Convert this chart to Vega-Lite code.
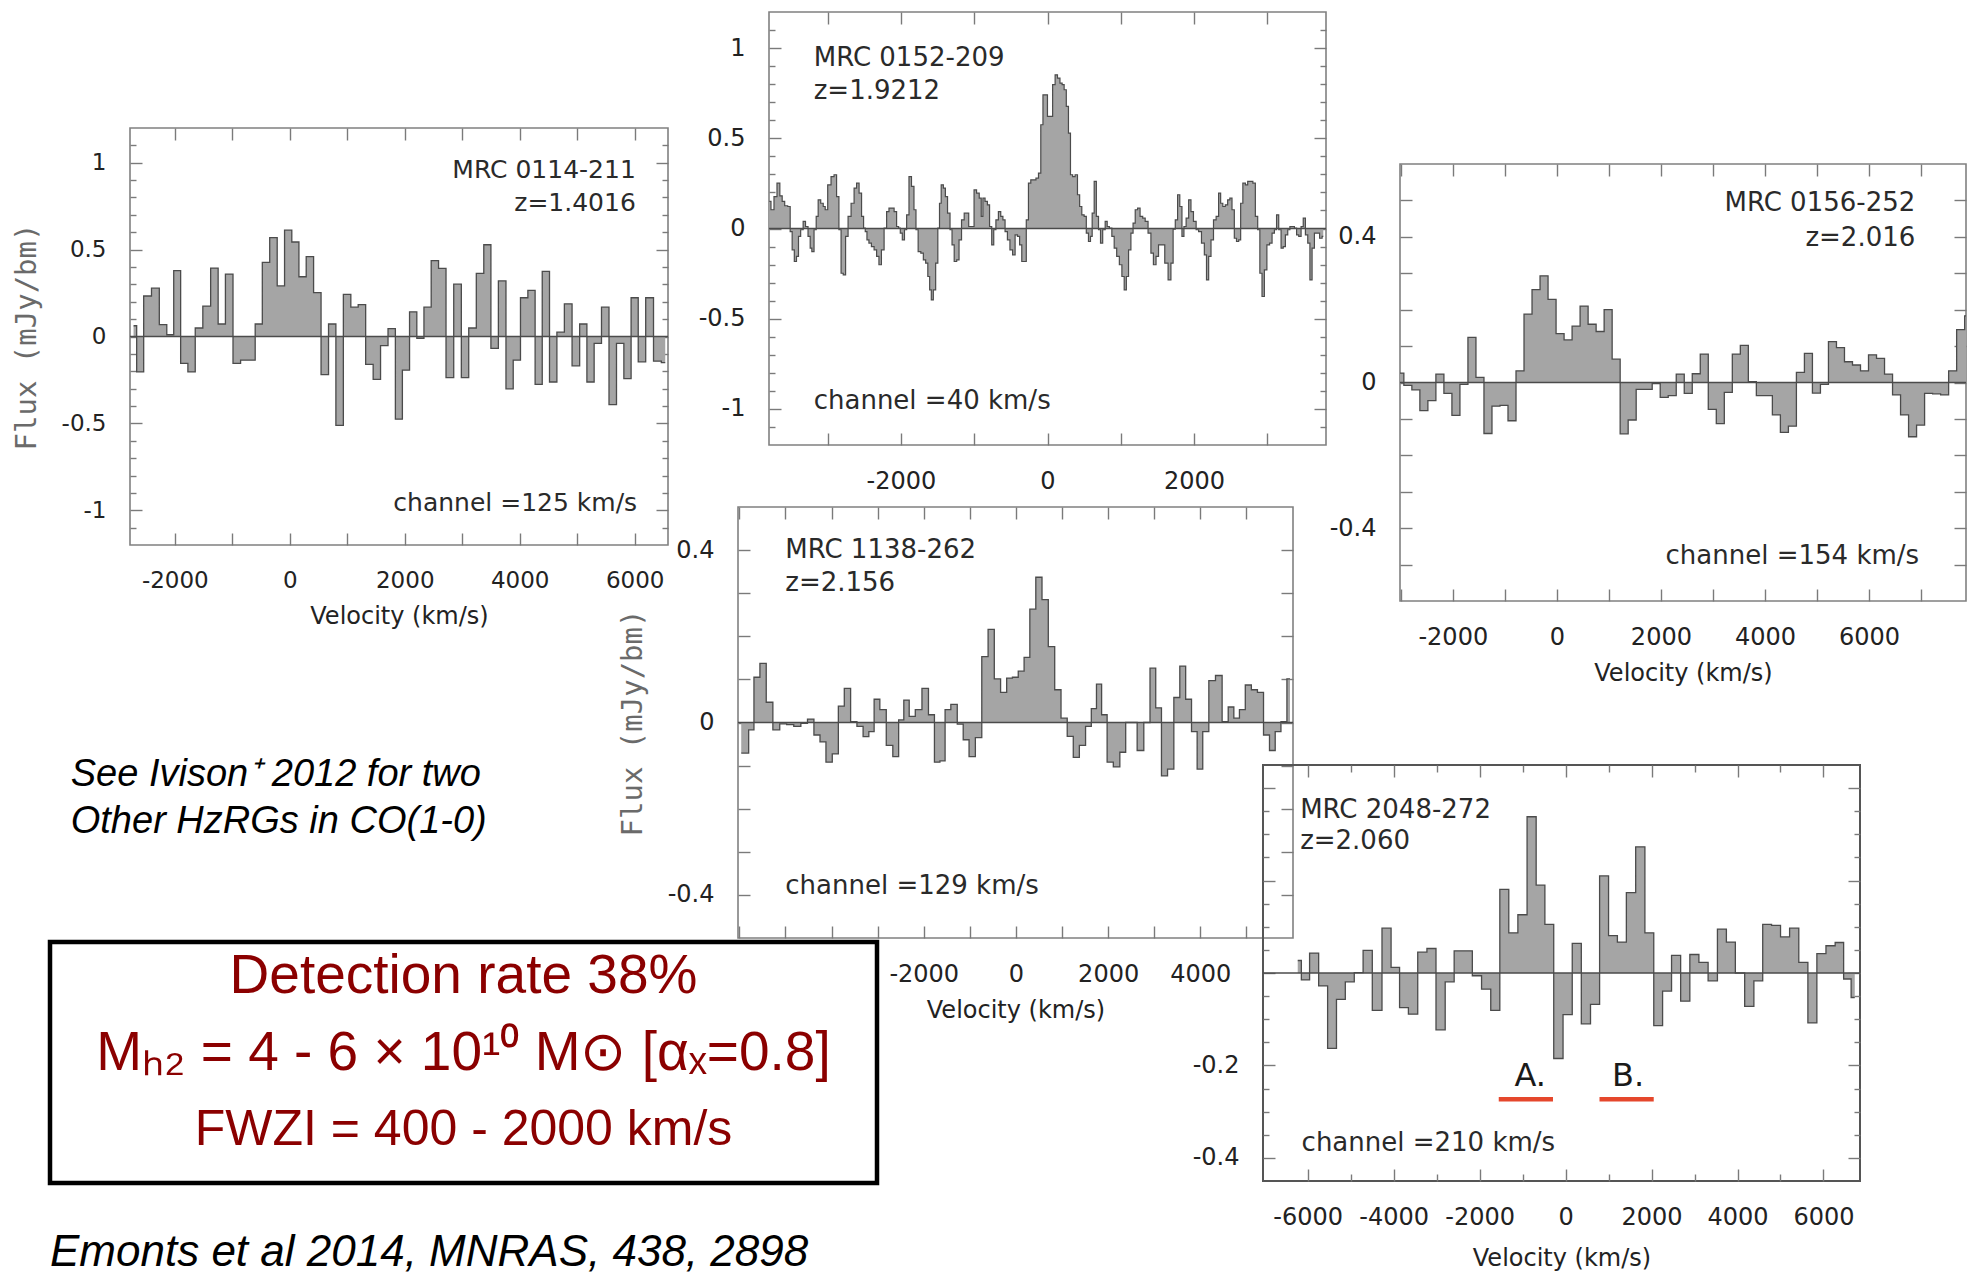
{
"$schema": "https://vega.github.io/schema/vega-lite/v6.json",
"background": "white",
"padding": {"left": 11, "top": 10, "right": 4, "bottom": 0},
"datasets": {
"p1": [{"v":-2718,"f":0.062},{"v":-2610,"f":-0.204},{"v":-2474,"f":0.233},{"v":-2338,"f":0.278},{"v":-2202,"f":0.068},{"v":-2078,"f":0.01},{"v":-1961,"f":0.379},{"v":-1837,"f":-0.155},{"v":-1709,"f":-0.204},{"v":-1581,"f":0.049},{"v":-1445,"f":0.175},{"v":-1309,"f":0.394},{"v":-1184,"f":0.072},{"v":-1056,"f":0.359},{"v":-920,"f":-0.155},{"v":-792,"f":-0.136},{"v":-664,"f":-0.136},{"v":-540,"f":0.072},{"v":-416,"f":0.427},{"v":-283,"f":0.569},{"v":-155,"f":0.291},{"v":-27,"f":0.612},{"v":97,"f":0.544},{"v":221,"f":0.344},{"v":350,"f":0.46},{"v":478,"f":0.252},{"v":610,"f":-0.219},{"v":738,"f":0.072},{"v":866,"f":-0.511},{"v":998,"f":0.243},{"v":1126,"f":0.169},{"v":1254,"f":0.184},{"v":1386,"f":-0.161},{"v":1515,"f":-0.247},{"v":1643,"f":-0.052},{"v":1775,"f":0.045},{"v":1899,"f":-0.476},{"v":2019,"f":-0.194},{"v":2148,"f":0.142},{"v":2272,"f":-0.01},{"v":2396,"f":0.169},{"v":2524,"f":0.437},{"v":2652,"f":0.392},{"v":2784,"f":-0.237},{"v":2920,"f":0.301},{"v":3049,"f":-0.237},{"v":3177,"f":0.049},{"v":3313,"f":0.363},{"v":3437,"f":0.528},{"v":3561,"f":-0.068},{"v":3697,"f":0.32},{"v":3825,"f":-0.301},{"v":3949,"f":-0.136},{"v":4078,"f":0.223},{"v":4206,"f":0.266},{"v":4330,"f":-0.276},{"v":4454,"f":0.375},{"v":4583,"f":-0.262},{"v":4711,"f":0.025},{"v":4843,"f":0.188},{"v":4979,"f":-0.169},{"v":5107,"f":0.072},{"v":5231,"f":-0.262},{"v":5359,"f":-0.039},{"v":5487,"f":0.169},{"v":5620,"f":-0.392},{"v":5748,"f":-0.039},{"v":5876,"f":-0.243},{"v":6000,"f":0.223},{"v":6124,"f":-0.146},{"v":6260,"f":0.223},{"v":6396,"f":-0.142},{"v":6532,"f":-0.15}],
"p2": [{"v":-3796,"f":0.15},{"v":-3750,"f":0.104},{"v":-3714,"f":0.177},{"v":-3668,"f":0.251},{"v":-3636,"f":0.181},{"v":-3604,"f":0.15},{"v":-3568,"f":0.126},{"v":-3522,"f":0.122},{"v":-3500,"f":-0.017},{"v":-3468,"f":-0.118},{"v":-3441,"f":-0.183},{"v":-3409,"f":-0.155},{"v":-3386,"f":-0.044},{"v":-3350,"f":-0.007},{"v":-3318,"f":0.039},{"v":-3286,"f":0.011},{"v":-3249,"f":-0.044},{"v":-3227,"f":-0.109},{"v":-3204,"f":-0.128},{"v":-3167,"f":-0.007},{"v":-3145,"f":0.067},{"v":-3113,"f":0.159},{"v":-3076,"f":0.14},{"v":-3044,"f":0.122},{"v":-3022,"f":0.104},{"v":-2976,"f":0.242},{"v":-2931,"f":0.288},{"v":-2894,"f":0.298},{"v":-2862,"f":0.177},{"v":-2830,"f":-0.007},{"v":-2803,"f":-0.248},{"v":-2771,"f":-0.257},{"v":-2739,"f":-0.044},{"v":-2703,"f":0.067},{"v":-2657,"f":0.14},{"v":-2621,"f":0.224},{"v":-2589,"f":0.251},{"v":-2553,"f":0.196},{"v":-2521,"f":0.067},{"v":-2498,"f":0.002},{"v":-2475,"f":-0.017},{"v":-2452,"f":-0.063},{"v":-2421,"f":-0.081},{"v":-2384,"f":-0.1},{"v":-2348,"f":-0.118},{"v":-2316,"f":-0.155},{"v":-2284,"f":-0.201},{"v":-2248,"f":-0.118},{"v":-2211,"f":0.002},{"v":-2179,"f":0.094},{"v":-2147,"f":0.113},{"v":-2111,"f":0.113},{"v":-2075,"f":0.094},{"v":-2043,"f":0.011},{"v":-2020,"f":0.002},{"v":-1997,"f":-0.026},{"v":-1965,"f":-0.063},{"v":-1938,"f":-0.007},{"v":-1906,"f":0.076},{"v":-1874,"f":0.288},{"v":-1838,"f":0.233},{"v":-1806,"f":0.104},{"v":-1783,"f":-0.007},{"v":-1747,"f":-0.128},{"v":-1710,"f":-0.137},{"v":-1678,"f":-0.174},{"v":-1647,"f":-0.192},{"v":-1619,"f":-0.266},{"v":-1597,"f":-0.34},{"v":-1574,"f":-0.396},{"v":-1542,"f":-0.34},{"v":-1510,"f":-0.192},{"v":-1483,"f":0.002},{"v":-1464,"f":0.14},{"v":-1437,"f":0.242},{"v":-1405,"f":0.224},{"v":-1382,"f":0.177},{"v":-1346,"f":0.085},{"v":-1314,"f":-0.007},{"v":-1291,"f":-0.091},{"v":-1255,"f":-0.183},{"v":-1223,"f":-0.174},{"v":-1191,"f":-0.063},{"v":-1155,"f":0.048},{"v":-1118,"f":0.085},{"v":-1086,"f":0.085},{"v":-1064,"f":0.011},{"v":-1018,"f":0.011},{"v":-986,"f":0.214},{"v":-950,"f":0.196},{"v":-913,"f":0.168},{"v":-895,"f":0.067},{"v":-868,"f":0.168},{"v":-836,"f":0.15},{"v":-804,"f":0.131},{"v":-777,"f":0.011},{"v":-745,"f":-0.091},{"v":-722,"f":-0.007},{"v":-686,"f":0.048},{"v":-654,"f":0.094},{"v":-622,"f":0.067},{"v":-595,"f":0.048},{"v":-563,"f":-0.017},{"v":-531,"f":-0.063},{"v":-494,"f":-0.118},{"v":-458,"f":-0.146},{"v":-426,"f":-0.035},{"v":-394,"f":-0.044},{"v":-367,"f":-0.091},{"v":-335,"f":-0.183},{"v":-303,"f":-0.183},{"v":-276,"f":0.048},{"v":-244,"f":0.251},{"v":-212,"f":0.27},{"v":-176,"f":0.27},{"v":-139,"f":0.279},{"v":-107,"f":0.307},{"v":-76,"f":0.575},{"v":-48,"f":0.741},{"v":-16,"f":0.741},{"v":15,"f":0.621},{"v":52,"f":0.621},{"v":88,"f":0.797},{"v":120,"f":0.852},{"v":152,"f":0.834},{"v":188,"f":0.806},{"v":211,"f":0.797},{"v":243,"f":0.769},{"v":270,"f":0.677},{"v":302,"f":0.529},{"v":325,"f":0.298},{"v":361,"f":0.288},{"v":393,"f":0.298},{"v":425,"f":0.187},{"v":452,"f":0.122},{"v":484,"f":0.076},{"v":516,"f":0.067},{"v":543,"f":-0.026},{"v":575,"f":-0.072},{"v":598,"f":-0.044},{"v":621,"f":0.085},{"v":653,"f":0.261},{"v":680,"f":0.067},{"v":712,"f":-0.007},{"v":735,"f":-0.081},{"v":771,"f":-0.007},{"v":803,"f":0.039},{"v":826,"f":0.011},{"v":862,"f":0.002},{"v":894,"f":-0.044},{"v":926,"f":-0.109},{"v":962,"f":-0.155},{"v":999,"f":-0.201},{"v":1031,"f":-0.266},{"v":1062,"f":-0.34},{"v":1090,"f":-0.266},{"v":1122,"f":-0.118},{"v":1154,"f":-0.026},{"v":1181,"f":0.03},{"v":1213,"f":0.104},{"v":1245,"f":0.113},{"v":1281,"f":0.067},{"v":1317,"f":0.057},{"v":1349,"f":0.039},{"v":1395,"f":-0.026},{"v":1427,"f":-0.137},{"v":1463,"f":-0.201},{"v":1499,"f":-0.155},{"v":1531,"f":-0.091},{"v":1577,"f":-0.091},{"v":1623,"f":-0.192},{"v":1668,"f":-0.285},{"v":1700,"f":-0.192},{"v":1728,"f":-0.004},{"v":1759,"f":0.048},{"v":1791,"f":0.187},{"v":1819,"f":0.122},{"v":1850,"f":-0.044},{"v":1873,"f":0.011},{"v":1910,"f":0.057},{"v":1942,"f":0.159},{"v":1973,"f":0.094},{"v":2010,"f":0.039},{"v":2046,"f":-0.007},{"v":2078,"f":-0.017},{"v":2124,"f":-0.081},{"v":2156,"f":-0.146},{"v":2183,"f":-0.285},{"v":2215,"f":-0.155},{"v":2247,"f":-0.063},{"v":2283,"f":0.048},{"v":2319,"f":0.067},{"v":2351,"f":0.196},{"v":2374,"f":0.14},{"v":2410,"f":0.122},{"v":2442,"f":0.131},{"v":2474,"f":0.159},{"v":2502,"f":0.168},{"v":2533,"f":0.104},{"v":2565,"f":-0.054},{"v":2593,"f":-0.072},{"v":2624,"f":-0.063},{"v":2647,"f":0.14},{"v":2684,"f":0.251},{"v":2716,"f":0.242},{"v":2747,"f":0.261},{"v":2784,"f":0.261},{"v":2820,"f":0.251},{"v":2852,"f":0.067},{"v":2884,"f":-0.007},{"v":2911,"f":-0.248},{"v":2943,"f":-0.377},{"v":2975,"f":-0.229},{"v":3012,"f":-0.091},{"v":3048,"f":-0.081},{"v":3080,"f":-0.026},{"v":3112,"f":-0.007},{"v":3139,"f":0.076},{"v":3171,"f":-0.007},{"v":3203,"f":-0.109},{"v":3230,"f":-0.1},{"v":3262,"f":-0.035},{"v":3294,"f":-0.007},{"v":3321,"f":0.011},{"v":3353,"f":0.011},{"v":3385,"f":0.002},{"v":3412,"f":-0.035},{"v":3444,"f":-0.044},{"v":3476,"f":0.011},{"v":3503,"f":0.057},{"v":3535,"f":-0.035},{"v":3567,"f":-0.081},{"v":3594,"f":-0.285},{"v":3626,"f":-0.109},{"v":3658,"f":-0.026},{"v":3694,"f":-0.026},{"v":3731,"f":-0.054},{"v":3763,"f":-0.044}],
"p3": [{"v":-3018,"f":0.026},{"v":-2864,"f":-0.008},{"v":-2710,"f":-0.02},{"v":-2556,"f":-0.077},{"v":-2402,"f":-0.05},{"v":-2248,"f":0.023},{"v":-2094,"f":-0.03},{"v":-1940,"f":-0.09},{"v":-1786,"f":-0.005},{"v":-1632,"f":0.124},{"v":-1478,"f":0.014},{"v":-1324,"f":-0.14},{"v":-1170,"f":-0.065},{"v":-1016,"f":-0.063},{"v":-862,"f":-0.105},{"v":-708,"f":0.032},{"v":-554,"f":0.188},{"v":-400,"f":0.255},{"v":-246,"f":0.293},{"v":-92,"f":0.228},{"v":62,"f":0.134},{"v":216,"f":0.117},{"v":370,"f":0.155},{"v":524,"f":0.21},{"v":678,"f":0.16},{"v":832,"f":0.14},{"v":986,"f":0.2},{"v":1140,"f":0.064},{"v":1294,"f":-0.141},{"v":1448,"f":-0.103},{"v":1602,"f":-0.019},{"v":1756,"f":-0.019},{"v":1910,"f":-0.003},{"v":2064,"f":-0.041},{"v":2218,"f":-0.036},{"v":2372,"f":0.023},{"v":2526,"f":-0.03},{"v":2680,"f":0.024},{"v":2834,"f":0.078},{"v":2988,"f":-0.074},{"v":3142,"f":-0.113},{"v":3296,"f":-0.027},{"v":3450,"f":0.078},{"v":3604,"f":0.102},{"v":3758,"f":0.002},{"v":3912,"f":-0.036},{"v":4066,"f":-0.036},{"v":4220,"f":-0.089},{"v":4374,"f":-0.137},{"v":4528,"f":-0.12},{"v":4682,"f":0.028},{"v":4836,"f":0.08},{"v":4990,"f":-0.029},{"v":5144,"f":-0.005},{"v":5298,"f":0.112},{"v":5452,"f":0.096},{"v":5606,"f":0.057},{"v":5760,"f":0.048},{"v":5914,"f":0.032},{"v":6068,"f":0.076},{"v":6222,"f":0.066},{"v":6376,"f":0.023},{"v":6530,"f":-0.034},{"v":6684,"f":-0.089},{"v":6838,"f":-0.149},{"v":6992,"f":-0.117},{"v":7146,"f":-0.03},{"v":7300,"f":-0.031},{"v":7454,"f":-0.034},{"v":7608,"f":0.032},{"v":7762,"f":0.145},{"v":7916,"f":0.183}],
"p4": [{"v":-5960,"f":-0.071},{"v":-5851,"f":-0.071},{"v":-5746,"f":-0.017},{"v":-5622,"f":0.105},{"v":-5487,"f":0.137},{"v":-5348,"f":0.047},{"v":-5199,"f":-0.017},{"v":-5050,"f":-0.003},{"v":-4900,"f":-0.005},{"v":-4741,"f":-0.009},{"v":-4592,"f":-0.002},{"v":-4453,"f":0.008},{"v":-4313,"f":-0.029},{"v":-4189,"f":-0.045},{"v":-4055,"f":-0.092},{"v":-3915,"f":-0.073},{"v":-3791,"f":0.038},{"v":-3657,"f":0.079},{"v":-3517,"f":0.002},{"v":-3383,"f":-0.009},{"v":-3249,"f":-0.033},{"v":-3134,"f":-0.021},{"v":-3020,"f":0.054},{"v":-2886,"f":0.03},{"v":-2741,"f":-0.053},{"v":-2602,"f":-0.079},{"v":-2488,"f":0.006},{"v":-2378,"f":0.052},{"v":-2254,"f":0.014},{"v":-2114,"f":0.03},{"v":-1965,"f":0.079},{"v":-1831,"f":0.018},{"v":-1706,"f":-0.092},{"v":-1592,"f":-0.089},{"v":-1483,"f":0.03},{"v":-1343,"f":0.042},{"v":-1204,"f":-0.004},{"v":-1085,"f":-0.04},{"v":-950,"f":-0.079},{"v":-811,"f":-0.035},{"v":-672,"f":0.153},{"v":-537,"f":0.216},{"v":-403,"f":0.101},{"v":-264,"f":0.07},{"v":-139,"f":0.103},{"v":-15,"f":0.105},{"v":114,"f":0.119},{"v":239,"f":0.151},{"v":363,"f":0.263},{"v":498,"f":0.337},{"v":632,"f":0.285},{"v":771,"f":0.176},{"v":910,"f":0.076},{"v":1045,"f":0.01},{"v":1179,"f":-0.032},{"v":1308,"f":-0.081},{"v":1443,"f":-0.053},{"v":1577,"f":-0.009},{"v":1692,"f":0.032},{"v":1801,"f":0.089},{"v":1915,"f":0.018},{"v":2040,"f":-0.092},{"v":2184,"f":-0.103},{"v":2323,"f":-0.069},{"v":2438,"f":0.0},{"v":2557,"f":0.0},{"v":2701,"f":-0.065},{"v":2846,"f":0.0},{"v":2970,"f":0.126},{"v":3094,"f":0.034},{"v":3219,"f":-0.124},{"v":3358,"f":-0.108},{"v":3492,"f":0.058},{"v":3617,"f":0.131},{"v":3746,"f":0.054},{"v":3871,"f":-0.021},{"v":3990,"f":-0.108},{"v":4114,"f":-0.021},{"v":4254,"f":0.097},{"v":4403,"f":0.109},{"v":4542,"f":0.002},{"v":4667,"f":0.036},{"v":4786,"f":0.01},{"v":4910,"f":0.03},{"v":5040,"f":0.087},{"v":5174,"f":0.076},{"v":5303,"f":0.07},{"v":5438,"f":-0.029},{"v":5562,"f":-0.065},{"v":5686,"f":-0.021},{"v":5811,"f":0.002},{"v":5945,"f":0.101}],
"p5": [{"v":-6232,"f":0.027},{"v":-6063,"f":-0.015},{"v":-5849,"f":0.043},{"v":-5641,"f":-0.028},{"v":-5432,"f":-0.163},{"v":-5229,"f":-0.057},{"v":-5021,"f":-0.019},{"v":-4812,"f":0.001},{"v":-4610,"f":0.049},{"v":-4384,"f":-0.081},{"v":-4159,"f":0.097},{"v":-3961,"f":0.012},{"v":-3764,"f":-0.075},{"v":-3550,"f":-0.089},{"v":-3330,"f":0.045},{"v":-3122,"f":0.053},{"v":-2908,"f":-0.123},{"v":-2694,"f":-0.019},{"v":-2491,"f":0.048},{"v":-2277,"f":0.048},{"v":-2062,"f":-0.006},{"v":-1848,"f":-0.035},{"v":-1634,"f":-0.081},{"v":-1426,"f":0.181},{"v":-1217,"f":0.087},{"v":-1003,"f":0.126},{"v":-789,"f":0.338},{"v":-580,"f":0.19},{"v":-383,"f":0.105},{"v":-169,"f":-0.185},{"v":51,"f":-0.09},{"v":259,"f":0.064},{"v":473,"f":-0.11},{"v":687,"f":-0.068},{"v":896,"f":0.21},{"v":1104,"f":0.081},{"v":1307,"f":0.067},{"v":1521,"f":0.174},{"v":1741,"f":0.273},{"v":1950,"f":0.087},{"v":2153,"f":-0.114},{"v":2361,"f":-0.039},{"v":2570,"f":0.038},{"v":2784,"f":-0.061},{"v":2998,"f":0.04},{"v":3206,"f":0.023},{"v":3426,"f":-0.017},{"v":3640,"f":0.095},{"v":3843,"f":0.067},{"v":4057,"f":0.0},{"v":4277,"f":-0.072},{"v":4485,"f":-0.017},{"v":4688,"f":0.105},{"v":4897,"f":0.103},{"v":5105,"f":0.078},{"v":5319,"f":0.097},{"v":5533,"f":0.023},{"v":5742,"f":-0.108},{"v":5951,"f":0.042},{"v":6165,"f":0.059},{"v":6379,"f":0.066},{"v":6559,"f":-0.013},{"v":6728,"f":-0.053}],
"p5comp": [{"comp":"A.","v1":-1555,"v2":-293},{"comp":"B.","v1":789,"v2":2051}],
"box": [{"i":1,"line":"Detection rate 38%"},{"i":2,"line":"Mₕ₂ = 4 - 6 × 10¹⁰ M⊙ [αₓ=0.8]"},{"i":3,"line":"FWZI = 400 - 2000 km/s"}]
},
"columns": 2,
"align": "none",
"spacing": -263,
"concat": [
{
 "spacing": 126,
 "vconcat": [
  {"spacing": 113,
   "vconcat": [
    {"width": 1, "height": 1, "data": {"values": []}, "mark": "text"},
    {"spacing": -40, "hconcat": [
     {"width": 1, "height": 1, "data": {"values": []}, "mark": "text"},
     {"width": 538, "height": 417,
      "view": {"stroke": "#808080", "strokeWidth": 1.6},
      "resolve": {"axis": {"x": "independent", "y": "independent"}},
      "layer": [
       {"data": {"name": "p1"},
        "mark": {"type": "area", "interpolate": "step", "color": "#a5a5a5", "opacity": 1, "clip": true, "line": {"color": "#4b4b4b", "strokeWidth": 1.3}},
        "encoding": {
         "x": {"field": "v", "type": "quantitative", "scale": {"domain": [-2780, 6580], "nice": false, "zero": false},
          "axis": {"orient": "bottom", "values": [-2000,-1000,0,1000,2000,3000,4000,5000,6000], "tickSize": -12, "labelFontSize": 23, "labelExpr": "indexof([-2000,0,2000,4000,6000], datum.value) >= 0 ? toString(datum.value) : ''", "title": "Velocity (km/s)"}},
         "y": {"field": "f", "type": "quantitative", "scale": {"domain": [-1.2, 1.2], "nice": false},
          "axis": {"orient": "left", "values": [-1.1,-1,-0.9,-0.8,-0.7,-0.6,-0.5,-0.4,-0.3,-0.2,-0.1,0,0.1,0.2,0.3,0.4,0.5,0.6,0.7,0.8,0.9,1,1.1], "tickSize": {"condition": {"test": "indexof([-1,-0.5,0,0.5,1], datum.value) >= 0", "value": -12}, "value": -6}, "labelFontSize": 23, "labelExpr": "indexof([-1,-0.5,0,0.5,1], datum.value) >= 0 ? toString(datum.value) : ''", "title": "Flux (mJy/bm)", "titleFont": "DejaVu Sans Mono", "titleColor": "#6a6a6a", "titleFontSize": 29, "titlePadding": 20}}
        }},
       {"data": {"values": [{}]}, "mark": {"type": "rule", "color": "#4b4b4b", "strokeWidth": 1.3}, "encoding": {"y": {"datum": 0, "type": "quantitative", "axis": null}}},
       {"data": {"values": [{}]}, "mark": {"type": "text", "align": "right", "baseline": "middle", "lineHeight": 33, "fontSize": 25},
        "encoding": {
         "x": {"datum": 6020, "type": "quantitative", "axis": {"orient": "top", "values": [-2000,-1000,0,1000,2000,3000,4000,5000,6000], "tickSize": -12, "labels": false, "title": null}},
         "y": {"datum": 0.96, "type": "quantitative", "axis": {"orient": "right", "values": [-1.1,-1,-0.9,-0.8,-0.7,-0.6,-0.5,-0.4,-0.3,-0.2,-0.1,0,0.1,0.2,0.3,0.4,0.5,0.6,0.7,0.8,0.9,1,1.1], "tickSize": {"condition": {"test": "indexof([-1,-0.5,0,0.5,1], datum.value) >= 0", "value": -12}, "value": -6}, "labels": false, "title": null}},
         "text": {"value": ["MRC 0114-211", "z=1.4016"]}}},
       {"data": {"values": [{}]}, "mark": {"type": "text", "align": "right", "baseline": "middle", "fontSize": 25},
        "encoding": {"x": {"datum": 6043, "type": "quantitative", "axis": null}, "y": {"datum": -0.96, "type": "quantitative", "axis": null}, "text": {"value": "channel =125 km/s"}}}
      ]}
    ]}
   ]},
  {"title": {"text": ["See Ivison⁺ 2012 for two", "Other HzRGs in CO(1-0)"], "anchor": "start", "dx": 23, "fontSize": 38, "lineHeight": 47, "offset": 99, "fontStyle": "italic", "font": "Liberation Sans", "fontWeight": "normal", "color": "black"},
   "vconcat": [
    {"width": 827, "height": 241,
     "view": {"stroke": "black", "strokeWidth": 4.5, "fill": "white"},
     "title": {"text": "Emonts et al 2014, MNRAS, 438, 2898", "orient": "bottom", "anchor": "start", "fontSize": 44, "offset": 48, "fontStyle": "italic", "font": "Liberation Sans", "fontWeight": "normal", "color": "black"},
     "data": {"name": "box"},
     "mark": {"type": "text", "font": "Liberation Sans", "color": "#8b0000", "baseline": "middle", "align": "center"},
     "encoding": {
      "y": {"field": "i", "type": "ordinal", "scale": {"type": "point", "padding": 0.565, "align": 0.39}, "axis": null},
      "size": {"condition": {"test": "datum.i === 3", "value": 50}, "value": 55},
      "text": {"field": "line"}}}
   ]}
 ]
},
{
 "columns": 2,
 "align": "none",
 "spacing": -137,
 "concat": [
  {"spacing": 11,
   "vconcat": [
    {"spacing": -42, "hconcat": [
     {"width": 1, "height": 1, "data": {"values": []}, "mark": "text"},
     {"width": 557, "height": 433,
      "view": {"stroke": "#808080", "strokeWidth": 1.6},
      "resolve": {"axis": {"x": "independent", "y": "independent"}},
      "layer": [
       {"data": {"name": "p2"},
        "mark": {"type": "area", "interpolate": "step", "color": "#a5a5a5", "opacity": 1, "clip": true, "line": {"color": "#4b4b4b", "strokeWidth": 1.2}},
        "encoding": {
         "x": {"field": "v", "type": "quantitative", "scale": {"domain": [-3800, 3800], "nice": false, "zero": false},
          "axis": {"orient": "bottom", "values": [-3000,-2000,-1000,0,1000,2000,3000], "tickSize": -12, "labelExpr": "indexof([-2000,0,2000], datum.value) >= 0 ? toString(datum.value) : ''", "title": null}},
         "y": {"field": "f", "type": "quantitative", "scale": {"domain": [-1.2, 1.2], "nice": false},
          "axis": {"orient": "left", "values": [-1.1,-1,-0.9,-0.8,-0.7,-0.6,-0.5,-0.4,-0.3,-0.2,-0.1,0,0.1,0.2,0.3,0.4,0.5,0.6,0.7,0.8,0.9,1,1.1], "tickSize": {"condition": {"test": "indexof([-1,-0.5,0,0.5,1], datum.value) >= 0", "value": -12}, "value": -6}, "labelExpr": "indexof([-1,-0.5,0,0.5,1], datum.value) >= 0 ? toString(datum.value) : ''", "title": null}}
        }},
       {"data": {"values": [{}]}, "mark": {"type": "rule", "color": "#4b4b4b", "strokeWidth": 1.3}, "encoding": {"y": {"datum": 0, "type": "quantitative", "axis": null}}},
       {"data": {"values": [{}]}, "mark": {"type": "text", "align": "left", "baseline": "middle", "lineHeight": 33, "fontSize": 26},
        "encoding": {
         "x": {"datum": -3190, "type": "quantitative", "axis": {"orient": "top", "values": [-3000,-2000,-1000,0,1000,2000,3000], "tickSize": -12, "labels": false, "title": null}},
         "y": {"datum": 0.947, "type": "quantitative", "axis": {"orient": "right", "values": [-1.1,-1,-0.9,-0.8,-0.7,-0.6,-0.5,-0.4,-0.3,-0.2,-0.1,0,0.1,0.2,0.3,0.4,0.5,0.6,0.7,0.8,0.9,1,1.1], "tickSize": {"condition": {"test": "indexof([-1,-0.5,0,0.5,1], datum.value) >= 0", "value": -12}, "value": -6}, "labels": false, "title": null}},
         "text": {"value": ["MRC 0152-209", "z=1.9212"]}}},
       {"data": {"values": [{}]}, "mark": {"type": "text", "align": "left", "baseline": "middle", "fontSize": 26},
        "encoding": {"x": {"datum": -3190, "type": "quantitative", "axis": null}, "y": {"datum": -0.954, "type": "quantitative", "axis": null}, "text": {"value": "channel =40 km/s"}}}
      ]}
    ]},
    {"width": 555, "height": 431,
     "view": {"stroke": "#808080", "strokeWidth": 1.6},
     "resolve": {"axis": {"x": "independent", "y": "independent"}},
     "layer": [
      {"data": {"name": "p4"},
       "mark": {"type": "area", "interpolate": "step", "color": "#a5a5a5", "opacity": 1, "clip": true, "line": {"color": "#4b4b4b", "strokeWidth": 1.3}},
       "encoding": {
        "x": {"field": "v", "type": "quantitative", "scale": {"domain": [-6030, 6010], "nice": false, "zero": false},
         "axis": {"orient": "bottom", "values": [-6000,-5000,-4000,-3000,-2000,-1000,0,1000,2000,3000,4000,5000], "tickSize": -12, "labelExpr": "indexof([-2000,0,2000,4000], datum.value) >= 0 ? toString(datum.value) : ''", "title": "Velocity (km/s)"}},
        "y": {"field": "f", "type": "quantitative", "scale": {"domain": [-0.5, 0.5], "nice": false},
         "axis": {"orient": "left", "values": [-0.4,-0.3,-0.2,-0.1,0,0.1,0.2,0.3,0.4], "tickSize": -12, "labelExpr": "indexof([-0.4,0,0.4], datum.value) >= 0 ? toString(datum.value) : ''", "title": "Flux (mJy/bm)", "titleFont": "DejaVu Sans Mono", "titleColor": "#6a6a6a", "titleFontSize": 29, "titlePadding": 20}}
       }},
      {"data": {"values": [{}]}, "mark": {"type": "rule", "color": "#4b4b4b", "strokeWidth": 1.3}, "encoding": {"y": {"datum": 0, "type": "quantitative", "axis": null}}},
      {"data": {"values": [{}]}, "mark": {"type": "text", "align": "left", "baseline": "middle", "lineHeight": 33, "fontSize": 26},
       "encoding": {
        "x": {"datum": -5005, "type": "quantitative", "axis": {"orient": "top", "values": [-6000,-5000,-4000,-3000,-2000,-1000,0,1000,2000,3000,4000,5000], "tickSize": -12, "labels": false, "title": null}},
        "y": {"datum": 0.4, "type": "quantitative", "axis": {"orient": "right", "values": [-0.4,-0.3,-0.2,-0.1,0,0.1,0.2,0.3,0.4], "tickSize": -12, "labels": false, "title": null}},
        "text": {"value": ["MRC 1138-262", "z=2.156"]}}},
      {"data": {"values": [{}]}, "mark": {"type": "text", "align": "left", "baseline": "middle", "fontSize": 26},
       "encoding": {"x": {"datum": -5005, "type": "quantitative", "axis": null}, "y": {"datum": -0.379, "type": "quantitative", "axis": null}, "text": {"value": "channel =129 km/s"}}}
     ]}
   ]},
  {"spacing": 77,
   "vconcat": [
    {"width": 1, "height": 73, "data": {"values": []}, "mark": "text"},
    {"spacing": 64, "hconcat": [
     {"width": 1, "height": 1, "data": {"values": []}, "mark": "text"},
     {"width": 566, "height": 437,
      "view": {"stroke": "#808080", "strokeWidth": 1.6},
      "resolve": {"axis": {"x": "independent", "y": "independent"}},
      "layer": [
       {"data": {"name": "p3"},
        "mark": {"type": "area", "interpolate": "step", "color": "#a5a5a5", "opacity": 1, "clip": true, "line": {"color": "#4b4b4b", "strokeWidth": 1.3}},
        "encoding": {
         "x": {"field": "v", "type": "quantitative", "scale": {"domain": [-3015, 7865], "nice": false, "zero": false},
          "axis": {"orient": "bottom", "values": [-3000,-2000,-1000,0,1000,2000,3000,4000,5000,6000,7000], "tickSize": -12, "labelExpr": "indexof([-2000,0,2000,4000,6000], datum.value) >= 0 ? toString(datum.value) : ''", "title": "Velocity (km/s)"}},
         "y": {"field": "f", "type": "quantitative", "scale": {"domain": [-0.6, 0.6], "nice": false},
          "axis": {"orient": "left", "values": [-0.5,-0.4,-0.3,-0.2,-0.1,0,0.1,0.2,0.3,0.4,0.5], "tickSize": -12, "labelExpr": "indexof([-0.4,0,0.4], datum.value) >= 0 ? toString(datum.value) : ''", "title": null}}
        }},
       {"data": {"values": [{}]}, "mark": {"type": "rule", "color": "#4b4b4b", "strokeWidth": 1.3}, "encoding": {"y": {"datum": 0, "type": "quantitative", "axis": null}}},
       {"data": {"values": [{}]}, "mark": {"type": "text", "align": "right", "baseline": "middle", "lineHeight": 35, "fontSize": 26},
        "encoding": {
         "x": {"datum": 6890, "type": "quantitative", "axis": {"orient": "top", "values": [-3000,-2000,-1000,0,1000,2000,3000,4000,5000,6000,7000], "tickSize": -12, "labels": false, "title": null}},
         "y": {"datum": 0.494, "type": "quantitative", "axis": {"orient": "right", "values": [-0.5,-0.4,-0.3,-0.2,-0.1,0,0.1,0.2,0.3,0.4,0.5], "tickSize": -12, "labels": false, "title": null}},
         "text": {"value": ["MRC 0156-252", "z=2.016"]}}},
       {"data": {"values": [{}]}, "mark": {"type": "text", "align": "right", "baseline": "middle", "fontSize": 26},
        "encoding": {"x": {"datum": 6963, "type": "quantitative", "axis": null}, "y": {"datum": -0.476, "type": "quantitative", "axis": null}, "text": {"value": "channel =154 km/s"}}}
      ]}
    ]},
    {"width": 597, "height": 416,
     "view": {"stroke": "#555555", "strokeWidth": 2},
     "resolve": {"axis": {"x": "independent", "y": "independent"}},
     "layer": [
      {"data": {"name": "p5"},
       "mark": {"type": "area", "interpolate": "step", "color": "#a5a5a5", "opacity": 1, "clip": true, "line": {"color": "#4b4b4b", "strokeWidth": 1.3}},
       "encoding": {
        "x": {"field": "v", "type": "quantitative", "scale": {"domain": [-7040, 6850], "nice": false, "zero": false},
         "axis": {"orient": "bottom", "values": [-6000,-5000,-4000,-3000,-2000,-1000,0,1000,2000,3000,4000,5000,6000], "tickSize": {"condition": {"test": "indexof([-6000,-4000,-2000,0,2000,4000,6000], datum.value) >= 0", "value": -12}, "value": -7}, "labelExpr": "indexof([-6000,-4000,-2000,0,2000,4000,6000], datum.value) >= 0 ? toString(datum.value) : ''", "title": "Velocity (km/s)"}},
        "y": {"field": "f", "type": "quantitative", "scale": {"domain": [-0.45, 0.45], "nice": false},
         "axis": {"orient": "left", "values": [-0.4,-0.35,-0.3,-0.25,-0.2,-0.15,-0.1,-0.05,0,0.05,0.1,0.15,0.2,0.25,0.3,0.35,0.4], "tickSize": {"condition": {"test": "indexof([-0.4,-0.2,0,0.2,0.4], datum.value) >= 0", "value": -12}, "value": -6}, "labelExpr": "indexof([-0.4,-0.2], datum.value) >= 0 ? toString(datum.value) : ''", "title": null}}
       }},
      {"data": {"values": [{}]}, "mark": {"type": "rule", "color": "#4b4b4b", "strokeWidth": 1.3}, "encoding": {"y": {"datum": 0, "type": "quantitative", "axis": null}}},
      {"data": {"values": [{}]}, "mark": {"type": "text", "align": "left", "baseline": "middle", "lineHeight": 31, "fontSize": 26},
       "encoding": {
        "x": {"datum": -6176, "type": "quantitative", "axis": {"orient": "top", "values": [-6000,-5000,-4000,-3000,-2000,-1000,0,1000,2000,3000,4000,5000,6000], "tickSize": {"condition": {"test": "indexof([-6000,-4000,-2000,0,2000,4000,6000], datum.value) >= 0", "value": -12}, "value": -7}, "labels": false, "title": null}},
        "y": {"datum": 0.353, "type": "quantitative", "axis": {"orient": "right", "values": [-0.4,-0.35,-0.3,-0.25,-0.2,-0.15,-0.1,-0.05,0,0.05,0.1,0.15,0.2,0.25,0.3,0.35,0.4], "tickSize": {"condition": {"test": "indexof([-0.4,-0.2,0,0.2,0.4], datum.value) >= 0", "value": -12}, "value": -6}, "labels": false, "title": null}},
        "text": {"value": ["MRC 2048-272", "z=2.060"]}}},
      {"data": {"values": [{}]}, "mark": {"type": "text", "align": "left", "baseline": "middle", "fontSize": 26},
       "encoding": {"x": {"datum": -6142, "type": "quantitative", "axis": null}, "y": {"datum": -0.368, "type": "quantitative", "axis": null}, "text": {"value": "channel =210 km/s"}}},
      {"data": {"name": "p5comp"}, "mark": {"type": "rule", "color": "#e5472c", "strokeWidth": 4.5},
       "encoding": {"x": {"field": "v1", "type": "quantitative", "axis": null}, "x2": {"field": "v2"}, "y": {"datum": -0.273, "type": "quantitative", "axis": null}}},
      {"data": {"values": [{}]}, "mark": {"type": "text", "align": "center", "baseline": "middle", "fontSize": 32, "color": "#1a1a1a"},
       "encoding": {"x": {"datum": -823, "type": "quantitative", "axis": null}, "y": {"datum": -0.222, "type": "quantitative", "axis": null}, "text": {"value": "A."}}},
      {"data": {"values": [{}]}, "mark": {"type": "text", "align": "center", "baseline": "middle", "fontSize": 32, "color": "#1a1a1a"},
       "encoding": {"x": {"datum": 1454, "type": "quantitative", "axis": null}, "y": {"datum": -0.222, "type": "quantitative", "axis": null}, "text": {"value": "B."}}}
     ]}
   ]}
 ]
}
],
"config": {
 "view": {"stroke": null},
 "axis": {"grid": false, "domain": false, "labelFont": "DejaVu Sans", "labelFontSize": 24, "labelColor": "#222222", "tickColor": "#7a7a7a", "tickWidth": 1.4, "titleFont": "DejaVu Sans", "titleFontSize": 24, "titleFontWeight": "normal", "titleColor": "#222222", "labelPadding": 36, "titlePadding": 12, "labelOverlap": false, "labelFlush": false, "labelBound": false},
 "text": {"font": "DejaVu Sans", "fontSize": 25, "color": "#2a2a2a"},
 "title": {"font": "Liberation Sans", "fontWeight": "normal", "color": "black"}
}
}
